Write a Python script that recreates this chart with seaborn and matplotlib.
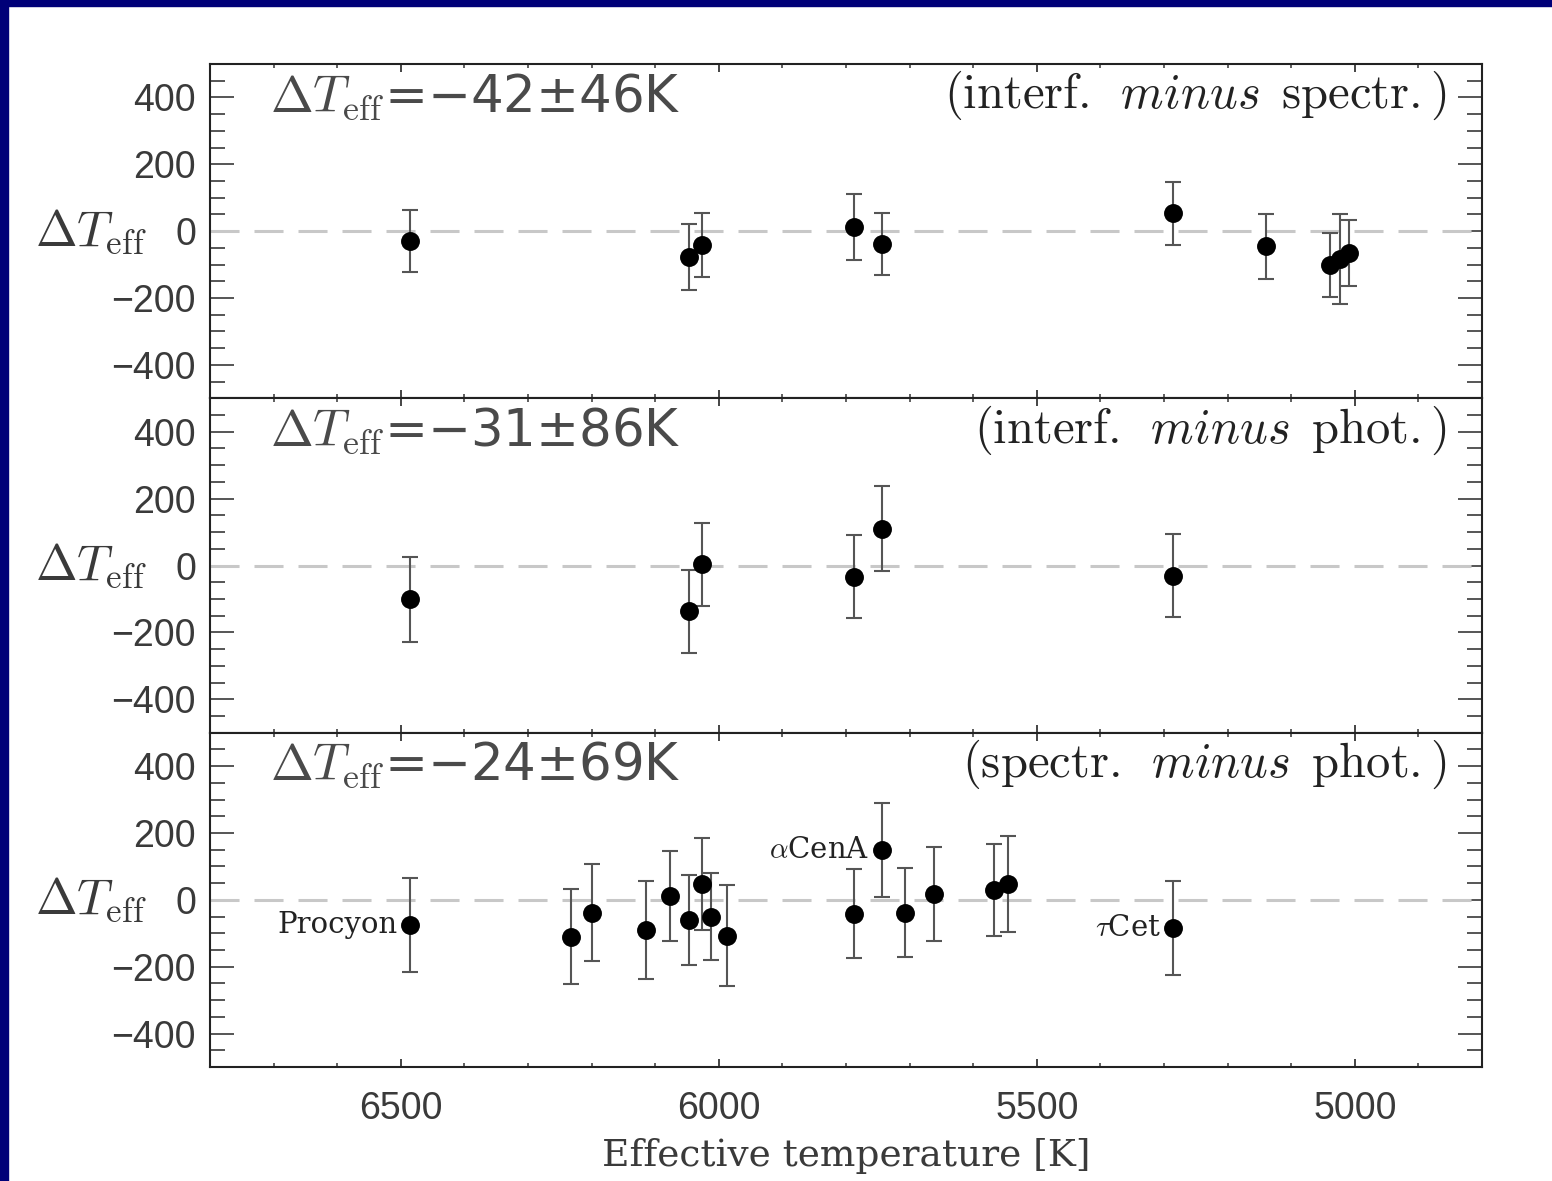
import numpy as np
import pandas as pd
import matplotlib
matplotlib.use("Agg")
import matplotlib.pyplot as plt
from matplotlib.patches import Rectangle
from matplotlib.ticker import MultipleLocator
import seaborn as sns

# ---------------- data ----------------
panel_labels = ["interf_spectr", "interf_phot", "spectr_phot"]

t1 = [6486, 6047, 6027, 5787, 5743, 5286, 5139, 5039, 5024, 5009]
d1 = [-30, -78, -42, 12, -39, 54, -45, -101, -84, -66]
e1 = [93, 99, 96, 99, 93, 94, 97, 97, 135, 99]

t2 = [6486, 6047, 6027, 5787, 5743, 5286]
d2 = [-101, -137, 3, -33, 110, -30]
e2 = [127, 125, 125, 125, 127, 124]

t3 = [6486, 6233, 6199, 6114, 6077, 6047, 6027, 6013, 5987,
      5787, 5743, 5707, 5662, 5568, 5546, 5286]
d3 = [-75, -110, -39, -90, 12, -60, 48, -51, -107,
      -42, 149, -39, 18, 30, 48, -84]
e3 = [140, 142, 145, 146, 134, 134, 137, 130, 151,
      133, 140, 133, 140, 137, 143, 140]

mean_texts = [r"$\Delta T_{\rm eff}$=−42±46K",
              r"$\Delta T_{\rm eff}$=−31±86K",
              r"$\Delta T_{\rm eff}$=−24±69K"]
comp_texts = [r"$\mathrm{(interf.\ \,}\mathit{minus}\mathrm{\ \,spectr.)}$",
              r"$\mathrm{(interf.\ \,}\mathit{minus}\mathrm{\ \,phot.)}$",
              r"$\mathrm{(spectr.\ \,}\mathit{minus}\mathrm{\ \,phot.)}$"]

star_names = ["Procyon", r"$\alpha$CenA", r"$\tau$Cet"]
star_t = [6486, 5743, 5286]
star_d = [-75, 149, -84]

x_ticks = [6500, 6000, 5500, 5000]
y_ticks = [400, 200, 0, -200, -400]
x_label = "Effective temperature [K]"
y_label = r"$\Delta T_{\rm eff}$"

# ---------------- style ----------------
sns.set_theme(style="white")
plt.rcParams["font.family"] = ["Liberation Sans", "DejaVu Sans"]
plt.rcParams["mathtext.fontset"] = "cm"
plt.rcParams["axes.unicode_minus"] = True

frames = []
for name, t, d, e in zip(panel_labels, [t1, t2, t3], [d1, d2, d3], [e1, e2, e3]):
    frames.append(pd.DataFrame({"panel": name, "teff": t, "dteff": d, "err": e}))
df = pd.concat(frames, ignore_index=True)

W, H = 1552, 1181
fig = plt.figure(figsize=(W / 100, H / 100), dpi=100)
fig.patch.set_facecolor("white")

left, right = 210 / W, 1482 / W
top, bottom = 1 - 64 / H, 1 - 1067 / H
ph = (top - bottom) / 3

txt_col = "#3a3a3a"
axes = []
for i, name in enumerate(panel_labels):
    ax = fig.add_axes([left, top - (i + 1) * ph, right - left, ph])
    axes.append(ax)
    sub = df[df.panel == name]
    ax.axhline(0, color="#c8c8c8", lw=2.2, dashes=(9.5, 4.9), zorder=1)
    ax.errorbar(sub.teff, sub.dteff, yerr=sub.err, fmt="none",
                ecolor="#555555", elinewidth=1.5, capsize=5.5, capthick=1.5, zorder=2)
    sns.scatterplot(data=sub, x="teff", y="dteff", ax=ax, color="black",
                    s=185, edgecolor="black", linewidth=0, zorder=3, legend=False)
    ax.set_xlim(6800, 4800)
    ax.set_ylim(-500, 500)
    ax.set_yticks(y_ticks)
    ax.yaxis.set_minor_locator(MultipleLocator(50))
    ax.set_xticks(x_ticks)
    ax.xaxis.set_minor_locator(MultipleLocator(100))
    ax.tick_params(axis="y", which="major", direction="in", length=17, width=1.4,
                   color="#555555", left=True, right=True, labelsize=27,
                   labelcolor=txt_col, pad=10)
    ax.tick_params(axis="y", which="minor", direction="in", length=11, width=1.4,
                   color="#555555", left=True, right=True)
    ax.tick_params(axis="x", which="major", direction="in", length=6, width=1.4,
                   color="#444444", top=True, bottom=True, labelsize=27,
                   labelcolor=txt_col, pad=17)
    ax.tick_params(axis="x", which="minor", direction="in", length=3, width=1.2,
                   color="#444444", top=True, bottom=True)
    if i < 2:
        ax.tick_params(axis="x", labelbottom=False)
    for sp in ax.spines.values():
        sp.set_color("#222222")
        sp.set_linewidth(1.5)
    ax.set_xlabel("")
    ax.set_ylabel(y_label, rotation=0, fontsize=36, color=txt_col, ha="center", va="center")
    ax.yaxis.set_label_coords(-0.094, 0.5)
    ax.text(0.047, 0.9, mean_texts[i], transform=ax.transAxes, fontsize=37,
            family=["DejaVu Sans"], color="#4a4a4a", ha="left", va="center")
    ax.text(0.9725, 0.905, comp_texts[i], transform=ax.transAxes, fontsize=35,
            color="#222222", ha="right", va="center")

axes[2].set_xlabel(x_label, family="DejaVu Serif", fontsize=27, color=txt_col, labelpad=8)
for name, t, d in zip(star_names, star_t, star_d):
    axes[2].annotate(name, (t, d), xytext=(-9, 0), textcoords="offset points",
                     ha="right", va="center", family="DejaVu Serif", fontsize=21,
                     color="#222222")

# navy frame strips (top and left)
fig.patches.append(Rectangle((0, 1 - 6 / H), 1, 6 / H, transform=fig.transFigure,
                             color="#000078", zorder=10))
fig.patches.append(Rectangle((0, 0), 8 / W, 1, transform=fig.transFigure,
                             color="#000078", zorder=10))

fig.savefig("out.png", dpi=100)
